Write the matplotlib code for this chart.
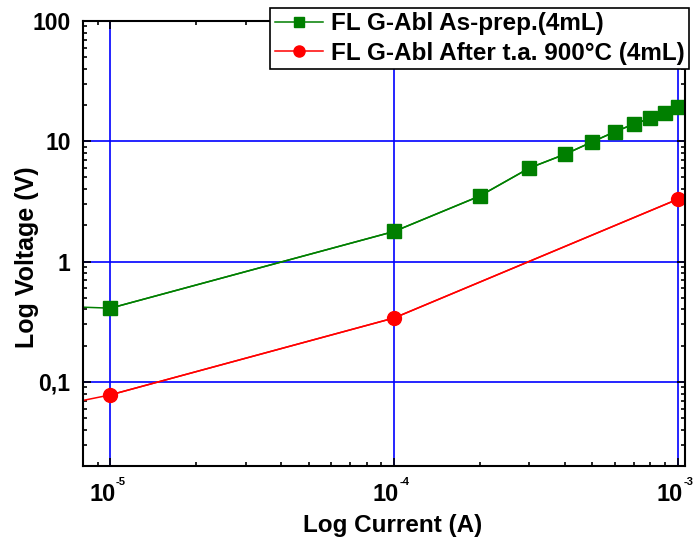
import matplotlib
matplotlib.use("Agg")
import matplotlib.pyplot as plt
import matplotlib.transforms as mtransforms
from matplotlib.ticker import LogLocator, FixedLocator, FixedFormatter, NullFormatter

# --- data ---
current = [1e-5, 1e-4, 2e-4, 3e-4, 4e-4, 5e-4, 6e-4, 7e-4, 8e-4, 9e-4, 1e-3]
v_asprep = [0.41, 1.78, 3.5, 6.0, 7.8, 9.9, 12.0, 13.9, 15.5, 17.2, 19.4]

current_ta = [1e-5, 1e-4, 1e-3]
v_after_ta = [0.078, 0.34, 3.3]

# curve continues past the left edge of the axes
lead_current = 7.5e-6
lead_asprep = 0.42
lead_after_ta = 0.068

x_ticks = [1e-5, 1e-4, 1e-3]
x_exponents = ["-5", "-4", "-3"]
y_ticks = [0.1, 1, 10, 100]
y_ticklabels = ["0,1", "1", "10", "100"]

plt.rcParams["font.family"] = ["Liberation Sans", "DejaVu Sans"]
plt.rcParams["font.weight"] = "bold"

fig = plt.figure(figsize=(6.94, 5.45), dpi=100)
ax = fig.add_axes([0.1196, 0.145, 0.987 - 0.1196, 0.9615 - 0.145])

green = "#007f00"
red = "#ff0000"

# lines (incl. the lead-in point), then markers on the measured points
ax.plot([lead_current] + current, [lead_asprep] + v_asprep, color=green, lw=1.1)
ax.plot([lead_current] + current_ta, [lead_after_ta] + v_after_ta, color=red, lw=1.1)
ax.plot(current, v_asprep, color=green, lw=1.1, marker="s", markersize=9.5,
        linestyle="-", label="FL G-Abl As-prep.(4mL)")
ax.plot(current_ta, v_after_ta, color=red, lw=1.1, marker="o", markersize=10,
        linestyle="-", label="FL G-Abl After t.a. 900°C (4mL)")

ax.set_xscale("log")
ax.set_yscale("log")
ax.set_xlim(8e-6, 1.06e-3)
ax.set_ylim(0.02, 100)

ax.xaxis.set_major_locator(FixedLocator(x_ticks))
ax.xaxis.set_major_formatter(FixedFormatter(["10"] * len(x_ticks)))
ax.xaxis.set_minor_locator(LogLocator(base=10, subs=range(2, 10)))
ax.xaxis.set_minor_formatter(NullFormatter())

ax.yaxis.set_major_locator(FixedLocator(y_ticks))
ax.yaxis.set_major_formatter(FixedFormatter(y_ticklabels))
ax.yaxis.set_minor_locator(LogLocator(base=10, subs=range(2, 10)))
ax.yaxis.set_minor_formatter(NullFormatter())

ax.tick_params(which="both", direction="in", top=True, right=True, width=1.2)
ax.tick_params(which="major", length=6, labelsize=16.5)
ax.tick_params(axis="y", which="major", pad=9)
ax.tick_params(axis="x", which="major", pad=12)
ax.tick_params(which="minor", length=3)

# "10" sits left of the tick, the small exponent to its upper right
shift = mtransforms.ScaledTranslation(-6 / 72, 0, fig.dpi_scale_trans)
for lab in ax.get_xticklabels():
    lab.set_fontsize(17)
    lab.set_transform(lab.get_transform() + shift)
for xt, ex in zip(x_ticks, x_exponents):
    ax.annotate(ex, xy=(xt, 0), xycoords=("data", "axes fraction"),
                xytext=(4, -8), textcoords="offset points",
                fontsize=8, fontweight="bold", ha="left", va="top",
                annotation_clip=False)

ax.grid(True, which="major", color="#0000ff", lw=1.2)
ax.set_axisbelow(True)
for s in ax.spines.values():
    s.set_linewidth(1.5)

ax.set_xlabel("Log Current (A)", fontsize=17.5, fontweight="bold")
ax.xaxis.set_label_coords(0.514, -0.108)
ax.set_ylabel("Log Voltage (V)", fontsize=18, fontweight="bold")
ax.yaxis.set_label_coords(-0.073, 0.47)

leg = ax.legend(loc="upper right", bbox_to_anchor=(0.993, 0.986),
                bbox_transform=fig.transFigure, fancybox=False, framealpha=1,
                edgecolor="black", fontsize=17.5, borderpad=0.2,
                borderaxespad=0, handlelength=2.0, labelspacing=0.25,
                handletextpad=0.3, markerscale=0.8)
leg.get_frame().set_linewidth(1.2)
for t in leg.get_texts():
    t.set_fontweight("bold")

fig.savefig("out.png", dpi=100)
